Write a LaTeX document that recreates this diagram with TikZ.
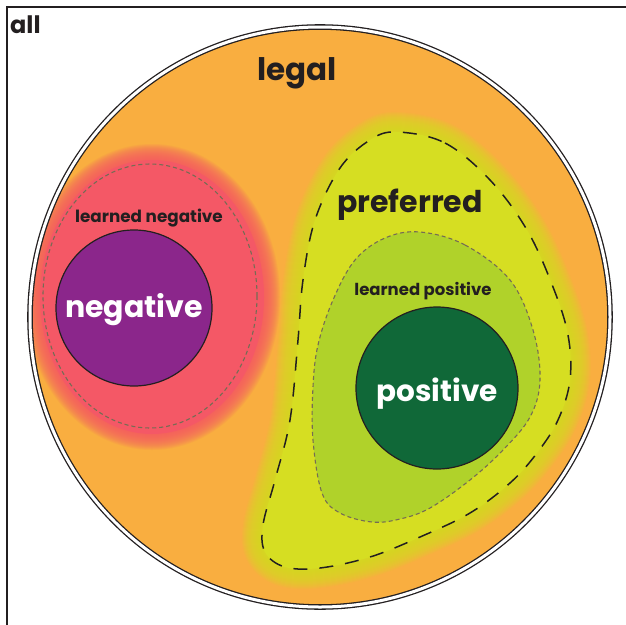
\documentclass[tikz,border=0pt]{standalone}
\usepackage{fontspec}
\setmainfont{Poppins}
\usetikzlibrary{positioning}
\definecolor{legalorange}{RGB}{249,174,64}
\definecolor{negred}{RGB}{244,88,102}
\definecolor{negpurple}{RGB}{139,38,139}
\definecolor{prefyellow}{RGB}{214,222,34}
\definecolor{lposgreen}{RGB}{176,210,42}
\definecolor{posgreen}{RGB}{16,104,56}
\definecolor{inkdark}{RGB}{35,31,32}
\definecolor{learnedgray}{RGB}{118,108,84}

\begin{document}
\begin{tikzpicture}[x=1pt, y=-1pt,
    txt/.style={text=inkdark, inner sep=0pt, anchor=base, font=\bfseries\fontsize{#1}{#1}\selectfont},
    setdisc/.style={circle, draw=inkdark, line width=1.2pt, inner sep=0pt, minimum size=#1},
    disctxt/.style={txt=#1, text=white},
    learned/.style={draw=learnedgray, line width=1.1pt, dash pattern=on 4pt off 3pt},
    glow/.style={line width=#1, opacity=0.1, line join=round}]
\useasboundingbox (0,0) rectangle (626,624);
\clip (0,0) rectangle (626,624);
\def\prefpath{plot[smooth cycle, tension=0.6] coordinates {(397,132) (445,143) (490,180) (527,230)
  (553,287) (568,335) (570,380) (558,420) (537,453) (510,483) (470,513) (420,537) (370,557)
  (320,568) (285,567) (265,552) (263,525) (275,480) (290,420) (298,340) (303,280) (315,220)
  (340,168) (370,140)}}
\def\lpospath{plot[smooth cycle, tension=0.6] coordinates {(420,232) (465,245) (510,280) (533,330)
  (540,380) (530,417) (503,450) (470,480) (430,508) (400,519) (372,522) (340,513) (322,493)
  (313,440) (313,387) (318,345) (333,300) (355,260) (385,238)}}

\draw[inkdark, line width=1.5pt] (7,7) rectangle (660,660);
\node[txt=24pt, anchor=base west] (all) at (10,33) {all};

% legal
\fill[legalorange] (320,317) circle (289);
\begin{scope}
  \clip (320,317) circle (289);
  \foreach \w in {2,4,...,32}
    \draw[negred, glow=\w] (152,297) ellipse (112 and 137);
  \fill[negred] (152,297) ellipse (112 and 137);
  \foreach \w in {2,4,...,40}
    \draw[prefyellow, glow=\w] \prefpath;
  \fill[prefyellow] \prefpath;
\end{scope}
\draw[inkdark, line width=1.3pt, double=white, double distance=3pt] (320,317) circle (290);
\node[txt=31pt] (legal) at (297,80) {legal};

% preferred
\draw[inkdark, line width=1.5pt, dash pattern=on 14pt off 12pt] \prefpath;
\node[txt=30pt] (preferred) at (410,212) {preferred};
\fill[lposgreen] \lpospath;
\draw[learned] \lpospath;
\node[txt=16.5pt] (lpos) at (423,295) {learned positive};
\node[setdisc=162pt, fill=posgreen] (positive) at (437,388) {};
\node[disctxt=29.5pt] (postxt) at (437,401) {positive};

% negative
\draw[learned] (150,296) ellipse (107 and 132);
\node[txt=16.8pt] (lneg) at (149,222) {learned negative};
\node[setdisc=156pt, fill=negpurple] (negative) at (134,308) {};
\node[disctxt=30pt] (negtxt) at (134,317) {negative};
\end{tikzpicture}
\end{document}
